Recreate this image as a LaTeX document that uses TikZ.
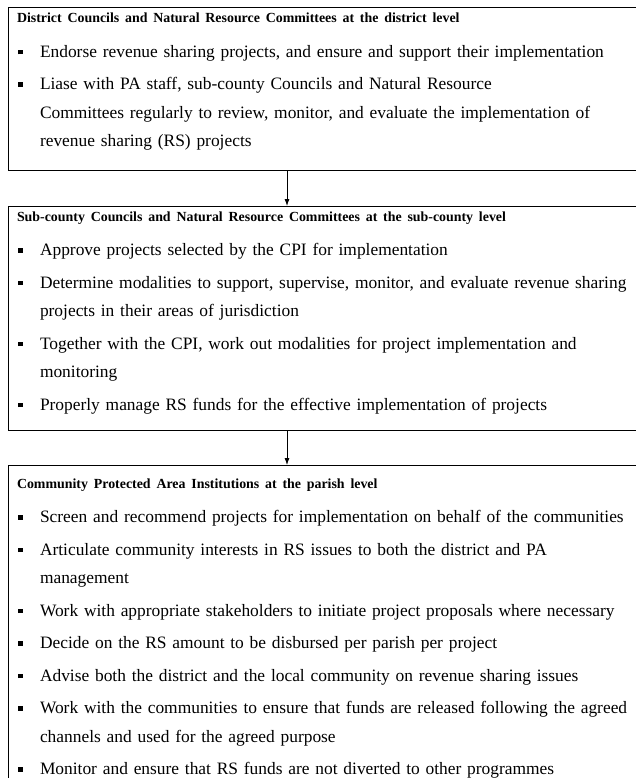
\documentclass[tikz,border=0pt]{standalone}
\usepackage{fontspec}
\setmainfont{Liberation Serif}
\usepackage{tikz}
\usetikzlibrary{arrows.meta}
\usetikzlibrary{calc,positioning}

\newcommand{\rsitem}[1]{\par\hangindent=23pt\hangafter=1\noindent\makebox[23pt][l]{\hspace{1pt}\rule[3pt]{4.5pt}{4.5pt}}#1\par}
\newcommand{\rshead}[1]{\noindent{\fontsize{13.9}{16}\selectfont\bfseries #1}\par\vspace{2pt}}

\begin{document}
\begin{tikzpicture}[
    levelbox/.style={draw, line width=1pt, anchor=north west, outer sep=0pt, inner xsep=9pt, inner ysep=0pt,
        text width=622pt, text height=15pt,
        font=\fontsize{17.4}{28.5}\selectfont\setlength{\parskip}{4pt}\raggedright},
    flow/.style={line width=0.8pt, -{Latex[length=7pt,width=5pt]}}
]
    \useasboundingbox (0pt,0pt) rectangle (636pt,-778pt);

    \node [levelbox, text depth=148pt] (district) at (8pt,-8pt) {
        \rshead{District Councils and Natural Resource Committees at the district level}
        \rsitem{Endorse revenue sharing projects, and ensure and support their implementation}
        \rsitem{Liase with PA staff, sub-county Councils and Natural Resource\newline
            Committees regularly to review, monitor, and evaluate the implementation of\newline
            revenue sharing (RS) projects}
    };

    \node [levelbox, text depth=209pt, below=35pt of district.south west, anchor=north west] (subcounty) {
        \rshead{Sub-county Councils and Natural Resource Committees at the sub-county level}
        \rsitem{Approve projects selected by the CPI for implementation}
        \rsitem{Determine modalities to support, supervise, monitor, and evaluate revenue sharing\newline
            projects in their areas of jurisdiction}
        \rsitem{Together with the CPI, work out modalities for project implementation and\newline
            monitoring}
        \rsitem{Properly manage RS funds for the effective implementation of projects}
    };

    \node [levelbox, text height=23pt, text depth=330pt, below=35pt of subcounty.south west, anchor=north west] (parish) {
        \rshead{Community Protected Area Institutions at the parish level}
        \rsitem{Screen and recommend projects for implementation on behalf of the communities}
        \rsitem{Articulate community interests in RS issues to both the district and PA\newline
            management}
        \rsitem{Work with appropriate stakeholders to initiate project proposals where necessary}
        \rsitem{Decide on the RS amount to be disbursed per parish per project}
        \rsitem{Advise both the district and the local community on revenue sharing issues}
        \rsitem{Work with the communities to ensure that funds are released following the agreed\newline
            channels and used for the agreed purpose}
        \rsitem{Monitor and ensure that RS funds are not diverted to other programmes}
    };

    \draw [flow] ([xshift=279pt]district.south west) -- ([xshift=279pt]subcounty.north west);
    \draw [flow] ([xshift=279pt]subcounty.south west) -- ([xshift=279pt]parish.north west);
\end{tikzpicture}
\end{document}
